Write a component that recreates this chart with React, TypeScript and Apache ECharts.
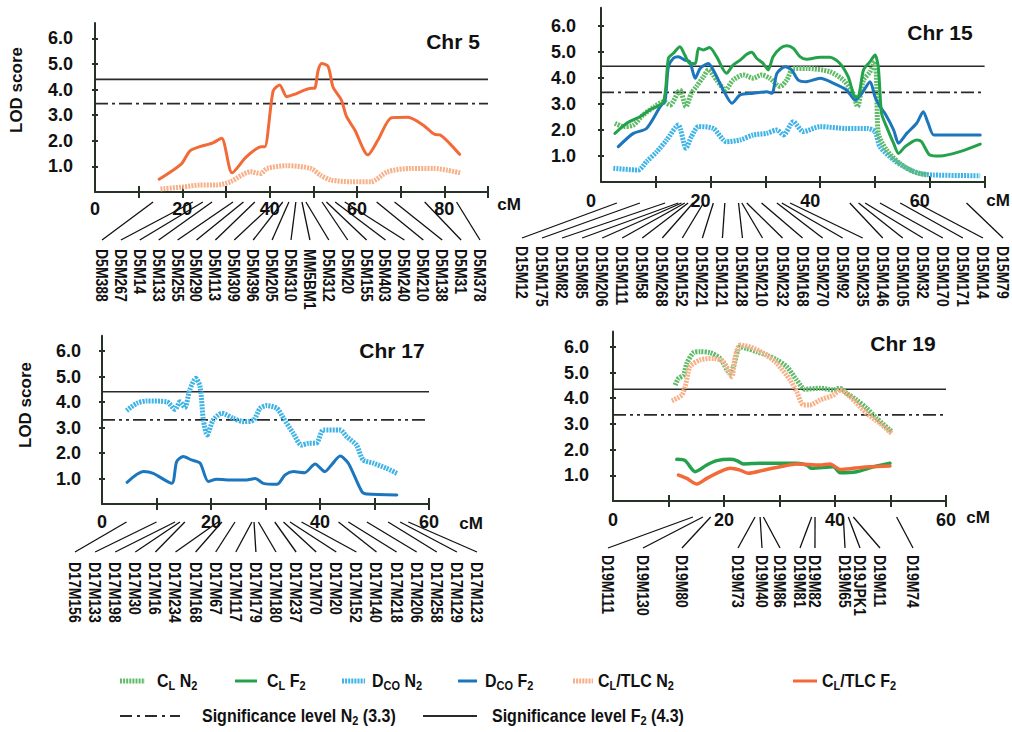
import React, { useEffect, useRef } from 'react';
import * as echarts from 'echarts';

const FONT = '"Liberation Sans", Arial, Helvetica, sans-serif';

// ---------------- data ----------------
const chr5TlcF2 = [[14.7,0.5],[19.8,1.1],[21.7,1.6],[24,1.77],[27,1.92],[29,2.1],[31.4,0.75],[34.7,1.38],[38.1,1.77],[38.9,1.77],[40.8,3.95],[42.3,4.18],[43.9,3.72],[45.4,3.8],[49.6,4.05],[50.3,4.05],[51.1,4.75],[51.9,5.02],[53.4,4.9],[54.5,4.1],[56.4,3.6],[57.6,2.95],[59.5,2.42],[62.5,1.45],[64.8,2.03],[67.9,2.9],[71.7,2.92],[75.1,2.62],[77.8,2.25],[79,2.23],[81.2,1.9],[83.5,1.47]];
const chr5TlcN2 = [[15,0.12],[20.3,0.2],[24,0.27],[27.9,0.27],[31,0.4],[35.6,0.79],[37.9,0.72],[39.4,0.92],[44,1.03],[49.4,0.92],[51.6,0.66],[54,0.47],[58.6,0.4],[63.2,0.4],[67,0.79],[72.3,0.92],[77.6,0.92],[80.7,0.85],[83.8,0.74]];

const chr15ClF2 = [[2.55,1.87],[4.7,2.26],[7.1,2.51],[8.9,2.77],[11.4,3.09],[12.3,4.76],[13.2,4.95],[14.4,5.2],[15.3,4.88],[16.2,4.56],[17.2,4.56],[17.8,5.14],[18.7,5.08],[19.8,5.17],[21.1,4.82],[22.9,4.18],[24.1,4.5],[25.4,4.69],[26.6,4.91],[27.5,4.99],[28.4,4.76],[29.6,4.56],[30.5,4.31],[31.4,4.82],[32.7,5.14],[33.9,5.24],[35.1,5.14],[36.3,4.82],[37.5,4.72],[40,4.8],[41.8,4.8],[43.6,4.56],[45.1,4.05],[46.4,3.28],[46.9,3.28],[47.9,4.31],[49.1,4.63],[50,4.88],[50.6,4.43],[51.2,2.64],[52.1,2.13],[53.4,1.49],[54.3,1.1],[55.5,1.36],[57.6,1.62],[58.5,1.55],[60,1.04],[61.9,1.0],[65.5,1.17],[69.2,1.46]];
const chr15DcoF2 = [[3.16,1.36],[5.9,1.87],[8.3,2.06],[10.8,2.9],[11.7,3.15],[12.3,4.43],[13.2,4.76],[14.1,4.82],[15.3,4.69],[16.2,4.63],[17.2,3.99],[18.1,4.37],[19.6,4.56],[20.8,4.18],[22.3,3.54],[23.9,3.03],[25.4,3.35],[27.8,3.41],[30.2,3.47],[31.2,3.41],[32.1,4.18],[33.6,4.43],[34.8,4.31],[36,3.92],[37.5,3.86],[40,3.99],[42.4,3.8],[44.8,3.54],[46.4,3.15],[47.6,3.41],[49.1,3.86],[50,3.28],[50.9,2.9],[51.8,2.64],[53.4,2.0],[54.3,1.49],[55.8,1.87],[57.6,2.26],[58.8,2.7],[59.7,2.26],[60.7,1.81],[62.4,1.81],[69.2,1.81]];
const chr15ClN2 = [[2.55,2.26],[4.1,2.13],[5.9,2.19],[7.7,2.58],[9.8,2.9],[11.4,3.09],[12.6,2.96],[14.4,3.54],[15.5,2.9],[16.5,3.41],[17.4,3.67],[18.7,4.05],[19.6,4.31],[21.1,3.92],[22.7,3.54],[24.1,3.92],[26,4.12],[27.8,3.99],[29.3,4.12],[30.8,3.99],[32.7,3.67],[33.9,3.92],[35.1,4.37],[37.5,4.37],[41.8,4.24],[44.2,3.92],[46,3.41],[46.8,2.9],[47.9,3.92],[49.1,4.24],[50,4.63],[50.3,3.8],[50.6,1.87],[52.1,1.23],[54.5,0.72],[57,0.4],[59.4,0.27]];
const chr15DcoN2 = [[2.25,0.53],[6.8,0.46],[8.3,0.78],[10.2,1.17],[12,1.62],[14.1,2.19],[15.5,1.3],[16.5,1.74],[17.8,2.13],[20.5,2.06],[22.9,1.55],[25.4,1.62],[27.8,1.81],[30.2,1.87],[32.1,2.0],[33.3,1.81],[35.1,2.32],[36.9,1.94],[40,2.13],[44.8,2.06],[48.5,2.06],[50,1.94],[50.9,1.36],[53.4,0.85],[55.8,0.53],[58.2,0.33],[60.7,0.27],[69.2,0.24]];

const chr17DcoN2 = [[4.5,3.66],[6.4,3.95],[8.2,4.04],[11.9,4.01],[13.4,3.71],[14.3,4.01],[15.2,3.78],[16.1,4.47],[17.2,4.93],[18,4.6],[18.6,3.29],[19.3,2.71],[20.4,3.29],[22,3.56],[24.1,3.36],[25.9,3.23],[27.8,3.29],[29,3.75],[30.2,3.86],[32.1,3.75],[33.3,3.36],[35.1,2.77],[36.6,2.31],[37.9,2.38],[39.4,2.4],[40.6,2.9],[43.7,2.9],[44.9,2.64],[46.7,2.31],[47.9,1.73],[49.8,1.6],[52.2,1.4],[54.1,1.2]];
const chr17DcoF2 = [[4.6,0.85],[7.6,1.27],[9.4,1.2],[12.8,0.81],[13.7,1.66],[14.9,1.86],[16.4,1.73],[18,1.6],[19.5,0.88],[21,0.97],[24.1,0.94],[26.5,0.94],[28.1,1.0],[29.6,0.81],[32.1,0.77],[33.6,1.14],[35.1,1.27],[37.2,1.23],[39.1,1.57],[40.9,1.27],[42.1,1.53],[43.7,1.88],[45.2,1.6],[47.7,0.48],[48.6,0.39],[54.1,0.35]];

const chr19ClN2 = [[11.2,4.51],[11.8,4.77],[12.7,4.9],[13.3,5.36],[14.5,5.77],[15.7,5.81],[17.5,5.77],[19.3,5.55],[21.1,4.97],[21.7,5.23],[22.9,6.0],[24.1,5.94],[25.9,5.81],[27.7,5.68],[29.5,5.49],[31.3,5.23],[33.1,4.71],[34.6,4.35],[37.3,4.39],[39.7,4.32],[40.9,4.39],[42.1,4.19],[43.9,3.93],[45.7,3.61],[47.5,3.22],[50.2,2.7]];
const chr19TlcN2 = [[10.6,3.9],[12.4,4.12],[13,4.45],[13.9,5.23],[15.7,5.49],[18.1,5.55],[19.9,5.42],[21.4,4.84],[22,5.61],[22.9,6.07],[24.7,6.0],[27.1,5.75],[29.5,5.36],[31.9,4.71],[33.1,4.25],[34.3,3.74],[35.5,3.74],[37.3,3.93],[39.7,4.12],[40.9,4.32],[42.7,4.06],[45.7,3.41],[48.1,3.02],[50.2,2.63]];
const chr19ClF2 = [[11.5,1.62],[13,1.57],[14.8,1.14],[16.9,1.4],[18.7,1.57],[21.1,1.62],[22.3,1.57],[23.5,1.44],[26.5,1.47],[30.7,1.47],[33.1,1.47],[34.9,1.4],[35.8,1.27],[39.7,1.33],[40.9,1.1],[43.9,1.14],[46.9,1.33],[49.9,1.47]];
const chr19TlcF2 = [[11.8,1.01],[13.3,0.88],[15.1,0.66],[16.9,0.88],[19.3,1.14],[21.1,1.27],[22.9,1.2],[24.4,1.08],[27.1,1.2],[30.1,1.33],[33.1,1.44],[37.3,1.4],[39.1,1.44],[40.9,1.23],[43.3,1.27],[46.3,1.33],[49.9,1.36]];

// significance lines as drawn in each panel (legend: N2 3.3, F2 4.3)
const sigF2Drawn = [4.4, 4.45, 4.4, 4.35];
const sigN2Drawn = [3.45, 3.45, 3.3, 3.35];

const chrTitles = ['Chr 5', 'Chr 15', 'Chr 17', 'Chr 19'];
const yTickValues = [1, 2, 3, 4, 5, 6];
const xTickValues = [
  [10, 20, 30, 40, 50, 60, 70, 80, 90],
  [10, 20, 30, 40, 50, 60, 70],
  [10, 20, 30, 40, 50, 60],
  [10, 20, 30, 40, 50, 60],
];
const xLabelValues = [
  [0, 20, 40, 60, 80],
  [0, 20, 40, 60],
  [0, 20, 40, 60],
  [0, 20, 40, 60],
];

const chr5Markers = ['D5M388','D5M267','D5M14','D5M133','D5M255','D5M290','D5M113','D5M309','D5M396','D5M205','D5M310','MM5BM1','D5M312','D5M20','D5M155','D5M403','D5M240','D5M210','D5M138','D5M31','D5M378'];
const chr5MarkerCM = [13.3,22.4,24.7,26.8,31.6,34,36.6,41.2,43,44.4,46,47.4,48.3,52,53,55,57.2,64.5,68.6,75.5,82.8];
const chr15Markers = ['D15M12','D15M175','D15M82','D15M85','D15M206','D15M111','D15M58','D15M268','D15M152','D15M221','D15M121','D15M128','D15M210','D15M232','D15M168','D15M270','D15M92','D15M235','D15M146','D15M105','D15M32','D15M170','D15M171','D15M14','D15M79'];
const chr15MarkerCM = [2.9,7.1,11.7,14.1,14.7,15.3,15.9,16.8,18.7,20.5,22.6,25.1,25.7,26.6,29.3,32.1,33,34.5,45.4,47,48.2,50.9,54.6,57.6,66.7];
const chr17Markers = ['D17M156','D17M133','D17M198','D17M30','D17M16','D17M234','D17M168','D17M67','D17M117','D17M179','D17M180','D17M237','D17M70','D17M20','D17M152','D17M140','D17M218','D17M206','D17M258','D17M129','D17M123'];
const chr17MarkerCM = [4.5,10,13.4,14.3,15.2,21.3,22,24.4,27.5,27.9,28.7,31.7,33.3,34.5,36.6,43.4,45.2,48.6,52.5,54.7,56.2];
const chr19Markers = ['D19M111','D19M130','D19M80','D19M73','D19M40','D19M86','D19M81','D19M82','D19M65','D19JPK1','D19M11','D19M74'];
const chr19MarkerCM = [14.4,16.2,17.6,25.6,26.5,27.1,35.8,36.4,41.5,42.4,43.3,51.1];

// ---------------- layout ----------------
const panels = [
  { left: 95, top: 23, width: 393, height: 169, xMax: 90, yMax: 6.6, xLabelMargin: 8, yLabelMargin: 22, xLabelPad: 0, n2Dash: [13, 4, 3, 4] },
  { left: 601, top: 7.8, width: 383.6, height: 174.2, xMax: 70, yMax: 6.7, xLabelMargin: 10, yLabelMargin: 25, xLabelPad: 20, n2Dash: [13, 4, 3, 4] },
  { left: 102, top: 335.7, width: 327, height: 168.3, xMax: 60, yMax: 6.6, xLabelMargin: 9, yLabelMargin: 21, xLabelPad: 0, n2Dash: [13, 4, 3, 4, 3, 4] },
  { left: 613, top: 331.4, width: 333, height: 169.6, xMax: 60, yMax: 6.6, xLabelMargin: 10, yLabelMargin: 24, xLabelPad: 0, n2Dash: [13, 4, 3, 4, 3, 4] },
];
const titlePos = [[453, 41], [940, 32], [392, 350], [903, 343]];
const cmPos = [[509, 204], [998, 200], [471, 523], [978, 517]];
const lodPos = [[16, 90], [25, 405]];

const spread = (a: number, b: number, n: number) => Array.from({ length: n }, (_, i) => a + ((b - a) * i) / (n - 1));
const chr19LabelX = [608, 643, 682, 738, 762, 780, 800, 815, 845, 860, 880, 913];

const markerPanels = [
  { names: chr5Markers, pos: chr5MarkerCM, axis: 0, topY: 202, botY: 240, labelY: 249, labelX: spread(102, 480, chr5Markers.length) },
  { names: chr15Markers, pos: chr15MarkerCM, axis: 1, topY: 203, botY: 238, labelY: 246, labelX: spread(522, 1003, chr15Markers.length) },
  { names: chr17Markers, pos: chr17MarkerCM, axis: 2, topY: 522, botY: 552, labelY: 562, labelX: spread(75, 477, chr17Markers.length) },
  { names: chr19Markers, pos: chr19MarkerCM, axis: 3, topY: 517, botY: 548, labelY: 555, labelX: chr19LabelX },
];

const COL = {
  clN2: '#5fbb68',
  clF2: '#23a24b',
  dcoN2: '#3db3e6',
  dcoF2: '#1b76bd',
  tlcN2: '#f7b088',
  tlcF2: '#f26a38',
  thr: '#2a2a2a',
  axis: '#253225',
};
const HATCH = [2, 1.1];

function solid(color: string, data: number[][], i: number, width = 3) {
  return { type: 'line', xAxisIndex: i, yAxisIndex: i, data, symbol: 'none', smooth: 0.25, silent: true,
    lineStyle: { color, width, cap: 'round', join: 'round' }, z: 3 };
}
function hatched(color: string, data: number[][], i: number) {
  return { type: 'line', xAxisIndex: i, yAxisIndex: i, data, symbol: 'none', smooth: 0.25, silent: true,
    lineStyle: { color, width: 5, type: HATCH, cap: 'butt' }, z: 2 };
}

function buildOption() {
  const grid = panels.map(p => ({ left: p.left, top: p.top, width: p.width, height: p.height, containLabel: false }));
  const xAxis: any[] = [];
  const yAxis: any[] = [];
  panels.forEach((p, i) => {
    xAxis.push({
      type: 'value', gridIndex: i, min: 0, max: p.xMax, interval: 10, position: 'bottom',
      axisLine: { show: true, onZero: false, lineStyle: { color: COL.axis, width: 2 } },
      axisTick: { show: true, length: 6, customValues: xTickValues[i], lineStyle: { color: COL.axis, width: 2 } },
      axisLabel: {
        customValues: xLabelValues[i], color: '#111', fontSize: 18, fontWeight: 'bold', fontFamily: FONT,
        margin: p.xLabelMargin, padding: [0, p.xLabelPad, 0, 0],
        formatter: (v: number) => (v % 20 === 0 ? String(v) : ''),
      },
      splitLine: { show: false },
    });
    yAxis.push({
      type: 'value', gridIndex: i, min: 0, max: p.yMax, interval: 1, position: 'left',
      axisLine: { show: true, onZero: false, lineStyle: { color: COL.axis, width: 2 } },
      axisTick: { show: true, length: 3, customValues: yTickValues, lineStyle: { color: COL.axis, width: 2 } },
      axisLabel: {
        customValues: yTickValues, color: '#111', fontSize: 18, fontWeight: 'bold', fontFamily: FONT,
        margin: p.yLabelMargin,
        formatter: (v: number) => (Number.isInteger(v) && v > 0 ? v.toFixed(1) : ''),
      },
      splitLine: { show: false },
    });
  });
  panels.forEach((p, i) => {
    xAxis.push({
      type: 'value', gridIndex: i, min: 0, max: p.xMax, interval: 10, position: 'bottom',
      axisLine: { show: false }, axisLabel: { show: false }, splitLine: { show: false },
      axisTick: { show: true, inside: true, length: 6, customValues: xTickValues[i], lineStyle: { color: COL.axis, width: 2 } },
    });
    yAxis.push({
      type: 'value', gridIndex: i, min: 0, max: p.yMax, interval: 1, position: 'left',
      axisLine: { show: false }, axisLabel: { show: false }, splitLine: { show: false },
      axisTick: { show: true, inside: true, length: 3, customValues: yTickValues, lineStyle: { color: COL.axis, width: 2 } },
    });
  });

  const series: any[] = [];
  panels.forEach((p, i) => {
    series.push({ type: 'line', xAxisIndex: i, yAxisIndex: i, symbol: 'none', silent: true, z: 1,
      data: [[0, sigF2Drawn[i]], [p.xMax, sigF2Drawn[i]]], lineStyle: { color: COL.thr, width: 1.6 } });
    series.push({ type: 'line', xAxisIndex: i, yAxisIndex: i, symbol: 'none', silent: true, z: 1,
      data: [[0, sigN2Drawn[i]], [p.xMax, sigN2Drawn[i]]], lineStyle: { color: COL.thr, width: 1.8, type: p.n2Dash } });
  });
  series.push(hatched(COL.tlcN2, chr5TlcN2, 0));
  series.push(solid(COL.tlcF2, chr5TlcF2, 0));
  series.push(hatched(COL.dcoN2, chr15DcoN2, 1));
  series.push(solid(COL.dcoF2, chr15DcoF2, 1));
  series.push(solid(COL.clF2, chr15ClF2, 1));
  series.push(hatched(COL.clN2, chr15ClN2, 1));
  series.push(hatched(COL.dcoN2, chr17DcoN2, 2));
  series.push(solid(COL.dcoF2, chr17DcoF2, 2));
  series.push(hatched(COL.clN2, chr19ClN2, 3));
  series.push(hatched(COL.tlcN2, chr19TlcN2, 3));
  series.push(solid(COL.clF2, chr19ClF2, 3, 3.5));
  series.push(solid(COL.tlcF2, chr19TlcF2, 3, 3.5));

  return { animation: false, backgroundColor: '#ffffff', grid, xAxis, yAxis, series };
}

const RICH = {
  b: { fontSize: 16, fontWeight: 'bold', fontFamily: FONT, fill: '#111', color: '#111', lineHeight: 20 },
  s: { fontSize: 11, fontWeight: 'bold', fontFamily: FONT, fill: '#111', color: '#111', lineHeight: 12, verticalAlign: 'bottom' },
};

function txt(x: number, y: number, text: string, size: number, extra: any = {}) {
  return {
    type: 'text', x, y, silent: true, rotation: extra.rotation || 0,
    style: {
      text, fill: '#111', fontSize: size, fontWeight: 'bold', fontFamily: FONT,
      align: extra.align || 'center', textAlign: extra.align || 'center',
      verticalAlign: 'middle', textVerticalAlign: 'middle',
    },
  };
}

function buildGraphics(chart: any) {
  const g: any[] = [];
  chrTitles.forEach((t, i) => g.push(txt(titlePos[i][0], titlePos[i][1], t, 21)));
  cmPos.forEach(p => g.push(txt(p[0], p[1], 'cM', 17)));
  lodPos.forEach(p => g.push(txt(p[0], p[1], 'LOD score', 17, { rotation: Math.PI / 2 })));

  markerPanels.forEach(mp => {
    mp.names.forEach((name, i) => {
      const px = chart.convertToPixel({ xAxisIndex: mp.axis }, mp.pos[i]);
      const lx = mp.labelX[i];
      g.push({ type: 'line', silent: true, shape: { x1: px, y1: mp.topY, x2: lx, y2: mp.botY },
        style: { stroke: '#111', lineWidth: 1.3 } });
      g.push({
        type: 'text', x: lx, y: mp.labelY, rotation: -Math.PI / 2, scaleY: 1.22, silent: true,
        style: { text: name, fill: '#111', fontSize: 14, fontWeight: 'bold', fontFamily: FONT,
          align: 'left', textAlign: 'left', verticalAlign: 'middle', textVerticalAlign: 'middle' },
      });
    });
  });

  // legend
  const row1 = 681;
  const row2 = 716;
  const legendItems = [
    { x1: 120, x2: 145, tx: 157, y: row1, color: COL.clN2, hatch: true, text: '{b|C}{s|L}{b| N}{s|2}' },
    { x1: 235, x2: 257, tx: 267, y: row1, color: COL.clF2, hatch: false, text: '{b|C}{s|L}{b| F}{s|2}' },
    { x1: 342, x2: 365, tx: 372, y: row1, color: COL.dcoN2, hatch: true, text: '{b|D}{s|CO}{b| N}{s|2}' },
    { x1: 458, x2: 477, tx: 485, y: row1, color: COL.dcoF2, hatch: false, text: '{b|D}{s|CO}{b| F}{s|2}' },
    { x1: 573, x2: 593, tx: 598, y: row1, color: COL.tlcN2, hatch: true, text: '{b|C}{s|L}{b|/TLC N}{s|2}' },
    { x1: 793, x2: 817, tx: 822, y: row1, color: COL.tlcF2, hatch: false, text: '{b|C}{s|L}{b|/TLC F}{s|2}' },
  ];
  const legendText = (x: number, y: number, text: string) => ({
    type: 'text', x, y, scaleY: 1.15, silent: true,
    style: { text, rich: RICH, align: 'left', textAlign: 'left', verticalAlign: 'middle', textVerticalAlign: 'middle' },
  });
  legendItems.forEach(it => {
    g.push({ type: 'line', silent: true, shape: { x1: it.x1, y1: it.y, x2: it.x2, y2: it.y },
      style: it.hatch ? { stroke: it.color, lineWidth: 5, lineDash: HATCH } : { stroke: it.color, lineWidth: 3 } });
    g.push(legendText(it.tx, it.y, it.text));
  });
  g.push({ type: 'line', silent: true, shape: { x1: 120, y1: row2, x2: 180, y2: row2 },
    style: { stroke: COL.thr, lineWidth: 2, lineDash: [12, 5, 3, 5] } });
  g.push(legendText(202, row2, '{b|Significance level N}{s|2}{b| (3.3)}'));
  g.push({ type: 'line', silent: true, shape: { x1: 423, y1: row2, x2: 477, y2: row2 },
    style: { stroke: COL.thr, lineWidth: 2 } });
  g.push(legendText(492, row2, '{b|Significance level F}{s|2}{b| (4.3)}'));
  return g;
}

export default function App() {
  const ref = useRef<HTMLDivElement>(null);
  useEffect(() => {
    if (!ref.current) return;
    const chart = echarts.init(ref.current, undefined, { renderer: 'svg' });
    chart.setOption(buildOption() as any);
    chart.setOption({ graphic: buildGraphics(chart) } as any);
    return () => chart.dispose();
  }, []);
  return (
    <div
      ref={ref}
      style={{ position: 'fixed', left: 0, top: 0, width: 1012, height: 732, background: '#fff' }}
    />
  );
}
